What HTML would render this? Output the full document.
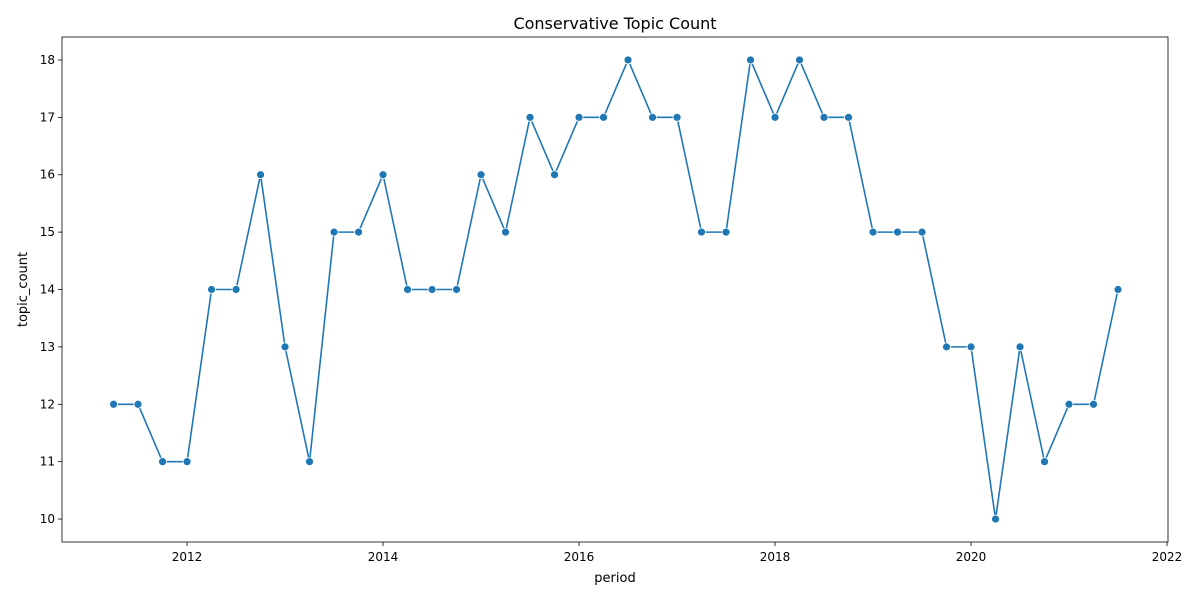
<!DOCTYPE html>
<html><head><meta charset="utf-8"><style>
body{margin:0;background:#fff;font-family:"Liberation Sans","DejaVu Sans",sans-serif}
svg text{font-family:"DejaVu Sans","Liberation Sans",sans-serif;fill:#000}
</style></head><body>
<svg id="chart" width="1200" height="600" xmlns="http://www.w3.org/2000/svg"></svg>
<script>
const periods=[2011.25,2011.5,2011.75,2012,2012.25,2012.5,2012.75,2013,2013.25,2013.5,2013.75,2014,2014.25,2014.5,2014.75,2015,2015.25,2015.5,2015.75,2016,2016.25,2016.5,2016.75,2017,2017.25,2017.5,2017.75,2018,2018.25,2018.5,2018.75,2019,2019.25,2019.5,2019.75,2020,2020.25,2020.5,2020.75,2021,2021.25,2021.5];
const counts=[12,12,11,11,14,14,16,13,11,15,15,16,14,14,14,16,15,17,16,17,17,18,17,17,15,15,18,17,18,17,17,15,15,15,13,13,10,13,11,12,12,14];
const xTicks=[2012,2014,2016,2018,2020,2022];
const yTicks=[10,11,12,13,14,15,16,17,18];
const L=62,R=1168,T=37,B=542;
const x0=2010.724,x1=2022.01,y0=9.6,y1=18.4;
const xs=v=>L+(v-x0)/(x1-x0)*(R-L);
const ys=v=>B-(v-y0)/(y1-y0)*(B-T);
const svg=document.getElementById('chart');const NS='http://www.w3.org/2000/svg';
function mk(t,a,p){const e=document.createElementNS(NS,t);for(const k in a)e.setAttribute(k,a[k]);(p||svg).appendChild(e);return e;}
let e;
e=mk('rect',{x:L,y:T,width:R-L,height:B-T,fill:'none',stroke:'#000','stroke-width':0.8});


xTicks.forEach(v=>{const X=xs(v);
 e=mk('line',{x1:X,x2:X,y1:B,y2:B+4,stroke:'#000','stroke-width':0.8});
 
 
 e=mk('text',{x:X,y:B+19,'text-anchor':'middle','font-size':12});e.textContent=v;
 
 });
yTicks.forEach(v=>{const Y=ys(v);
 e=mk('line',{x1:L-4,x2:L,y1:Y,y2:Y,stroke:'#000','stroke-width':0.8});
 
 
 e=mk('text',{x:L-7,y:Y+4,'text-anchor':'end','font-size':12});e.textContent=v;
 
 });
e=mk('polyline',{points:periods.map((p,i)=>xs(p)+','+ys(counts[i])).join(' '),fill:'none',stroke:'#1f77b4','stroke-width':1.6});


periods.forEach((p,i)=>{e=mk('circle',{cx:xs(p),cy:ys(counts[i]),r:4,fill:'#1f77b4',stroke:'#fff','stroke-width':0.8});
 
 });
e=mk('text',{x:(L+R)/2,y:29,'text-anchor':'middle','font-size':16});e.textContent='Conservative Topic Count';


e=mk('text',{x:(L+R)/2,y:582,'text-anchor':'middle','font-size':13});e.textContent='period';


e=mk('text',{x:0,y:0,'text-anchor':'middle','font-size':13,transform:`translate(27,${(T+B)/2}) rotate(-90)`});e.textContent='topic_count';


</script>
</body></html>
